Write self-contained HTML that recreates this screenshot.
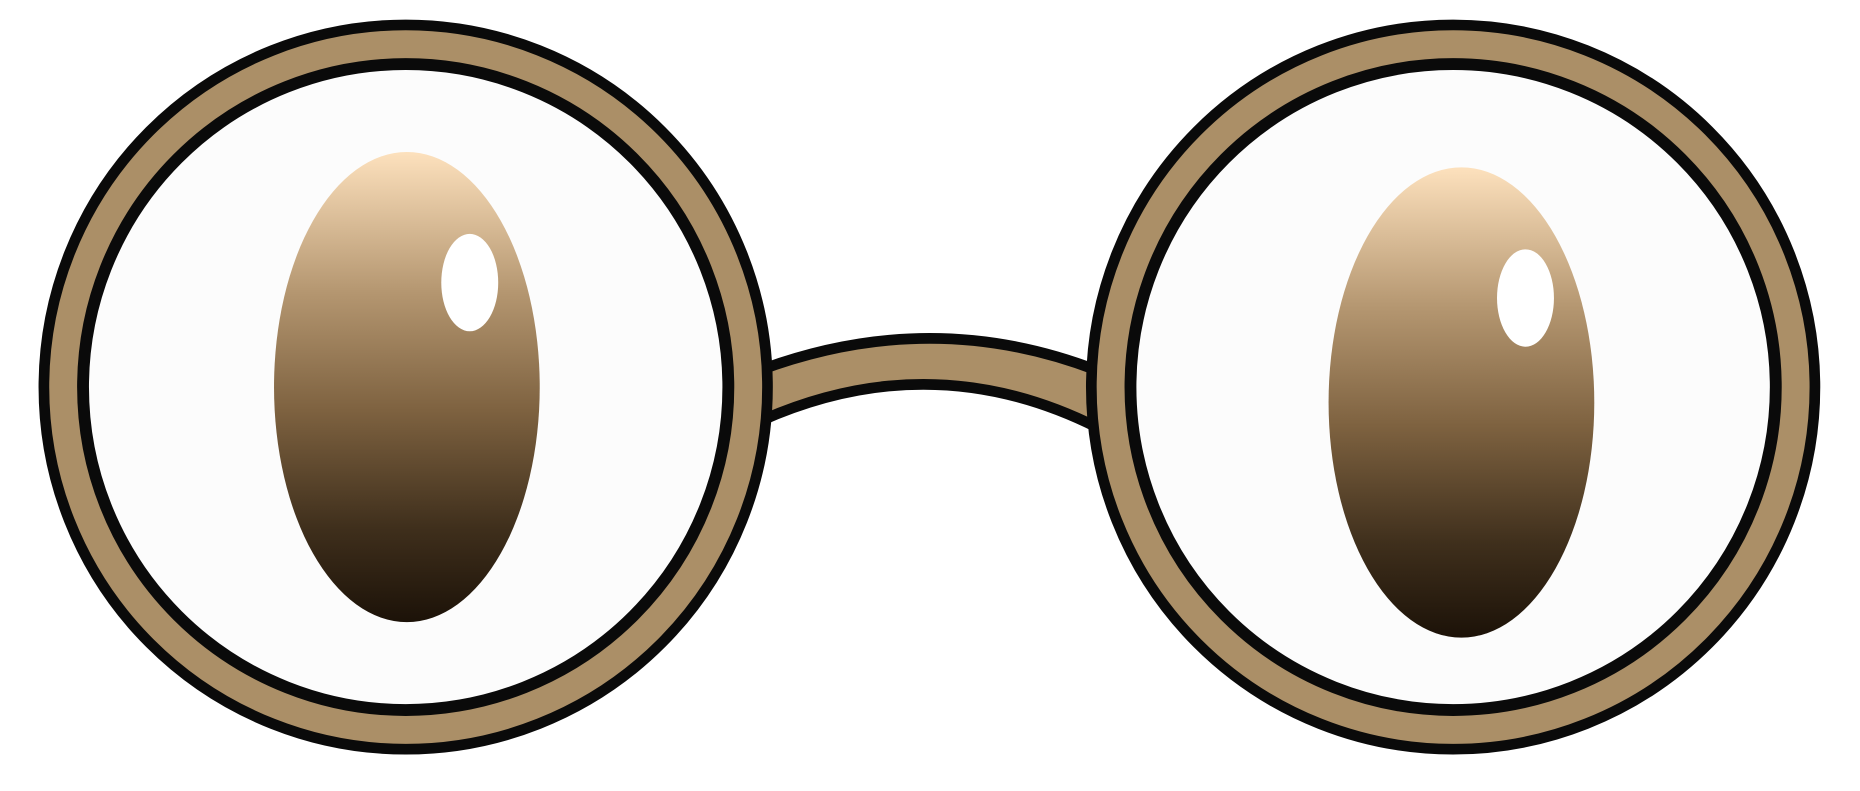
<!DOCTYPE html>
<html><head><style>html,body{margin:0;padding:0;background:#fff;overflow:hidden}</style></head>
<body>
<svg width="1860" height="786" viewBox="0 0 1568 662" preserveAspectRatio="none" xmlns="http://www.w3.org/2000/svg">
<defs>
<linearGradient id="pg" x1="0" y1="0" x2="0" y2="1">
<stop offset="0" stop-color="#fde1bd"/>
<stop offset="0.3" stop-color="#b49670"/>
<stop offset="0.55" stop-color="#7e6240"/>
<stop offset="0.8" stop-color="#3f2f1c"/>
<stop offset="1" stop-color="#1c1208"/>
</linearGradient>
</defs>
<g>
<path d="M640 312 Q785 258 925 312 L925 360 Q785 290 640 355 Z" fill="#ab8f67" stroke="#0a0a0a" stroke-width="9"/>
</g>
<g>
<circle cx="342" cy="326" r="305" fill="#ab8f67" stroke="#0a0a0a" stroke-width="9"/>
<circle cx="342" cy="326" r="272" fill="#fcfcfc" stroke="#0a0a0a" stroke-width="10"/>
<ellipse cx="343" cy="326" rx="112" ry="198" fill="url(#pg)"/>
<ellipse cx="396" cy="238" rx="24" ry="41" fill="#fff"/>
</g>
<g>
<circle cx="1225" cy="326" r="305" fill="#ab8f67" stroke="#0a0a0a" stroke-width="9"/>
<circle cx="1225" cy="326" r="272" fill="#fcfcfc" stroke="#0a0a0a" stroke-width="10"/>
<ellipse cx="1232" cy="339" rx="112" ry="198" fill="url(#pg)"/>
<ellipse cx="1286" cy="251" rx="24" ry="41" fill="#fff"/>
</g>
</svg>
</body></html>
